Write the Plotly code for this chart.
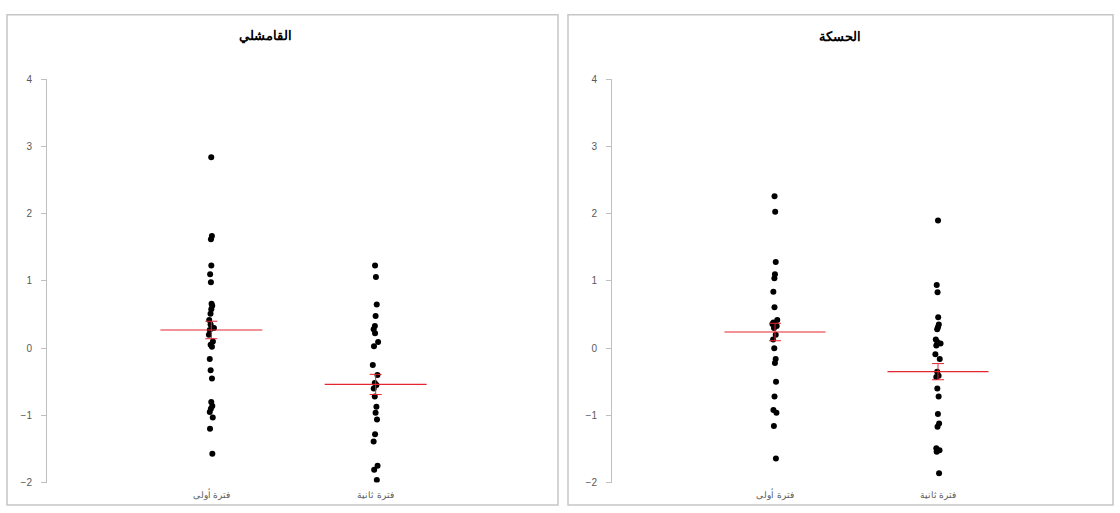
import plotly.graph_objects as go
from plotly.subplots import make_subplots

categories = ["فترة أولى", "فترة ثانية"]
panel_titles = ["القامشلي", "الحسكة"]

# Panel 1 (القامشلي)
qam_p1 = [2.84, 1.67, 1.62, 1.23, 1.10, 0.98, 0.66, 0.63, 0.58, 0.51, 0.42, 0.35,
          0.30, 0.27, 0.20, 0.10, 0.05, 0.02, -0.16, -0.33, -0.45, -0.80, -0.86,
          -0.90, -0.95, -1.03, -1.20, -1.57]
qam_p2 = [1.23, 1.06, 0.65, 0.48, 0.33, 0.28, 0.22, 0.09, 0.03, -0.25, -0.40,
          -0.52, -0.55, -0.60, -0.72, -0.87, -0.96, -1.06, -1.28, -1.39, -1.75,
          -1.81, -1.96]
qam_mean = [0.27, -0.54]
qam_se = [0.13, 0.15]

# Panel 2 (الحسكة)
has_p1 = [2.26, 2.03, 1.28, 1.10, 1.04, 0.84, 0.61, 0.42, 0.38, 0.36, 0.33, 0.30,
          0.20, 0.13, 0.00, -0.16, -0.22, -0.50, -0.72, -0.92, -0.96, -1.16, -1.64]
has_p2 = [1.90, 0.94, 0.83, 0.46, 0.35, 0.31, 0.28, 0.13, 0.09, 0.07, 0.04, -0.09,
          -0.16, -0.35, -0.41, -0.43, -0.60, -0.72, -0.98, -1.12, -1.17, -1.49,
          -1.52, -1.54, -1.86]
has_mean = [0.24, -0.35]
has_se = [0.13, 0.12]

y_ticks = [-2, -1, 0, 1, 2, 3, 4]

RED = "rgb(228,38,48)"
FONT = "Liberation Sans, Arial, sans-serif"
GRAY = "#595959"

fig = make_subplots(rows=1, cols=2)

panels = [
    (1, [qam_p1, qam_p2], qam_mean, qam_se),
    (2, [has_p1, has_p2], has_mean, has_se),
]

for col, groups, means, ses in panels:
    for i, vals in enumerate(groups):
        xpos = i + 1
        fig.add_trace(go.Box(
            x=[xpos] * len(vals), y=vals,
            boxpoints="all", jitter=0.12, pointpos=0, width=0.3,
            fillcolor="rgba(0,0,0,0)", line=dict(color="rgba(0,0,0,0)", width=0),
            marker=dict(color="black", size=6),
            showlegend=False, hoverinfo="y",
        ), row=1, col=col)
    for i, (m, s) in enumerate(zip(means, ses)):
        xpos = i + 1
        fig.add_trace(go.Scatter(
            x=[xpos - 0.31, xpos + 0.31], y=[m, m], mode="lines",
            line=dict(color=RED, width=1.2), showlegend=False, hoverinfo="skip",
        ), row=1, col=col)
        fig.add_trace(go.Scatter(
            x=[xpos], y=[m], mode="markers", marker=dict(size=0.1, color=RED),
            error_y=dict(type="data", array=[s], color=RED, thickness=1, width=6),
            showlegend=False, hoverinfo="skip",
        ), row=1, col=col)

W, H = 1120, 513
def px(x): return x / W
def py(y): return (H - y) / H

dom_y = [py(488), py(75)]
fig.update_layout(
    width=W, height=H, margin=dict(l=0, r=0, t=0, b=0),
    paper_bgcolor="white", plot_bgcolor="white",
    font=dict(family=FONT, color=GRAY),
    xaxis=dict(domain=[px(47), px(540)]),
    xaxis2=dict(domain=[px(612), px(1101)]),
    yaxis=dict(domain=dom_y),
    yaxis2=dict(domain=dom_y),
    # overlay axes to draw the inner half of the crossing tick marks
    yaxis3=dict(domain=dom_y, overlaying="y", anchor="x", side="left"),
    yaxis4=dict(domain=dom_y, overlaying="y2", anchor="x2", side="left"),
)

for ax in ["xaxis", "xaxis2"]:
    fig.layout[ax].update(
        range=[0, 3], tickmode="array", tickvals=[1, 2], ticktext=categories,
        showgrid=False, zeroline=False, showline=False, ticks="",
        ticklabelstandoff=5,
        tickfont=dict(size=9, color=GRAY, family=FONT),
    )
for ax in ["yaxis", "yaxis2"]:
    fig.layout[ax].update(
        range=[-2, 4], tickmode="array", tickvals=y_ticks,
        showgrid=False, zeroline=False, showline=True, linecolor="#bfbfbf",
        linewidth=1, ticks="outside", ticklen=5, tickcolor="#bfbfbf",
        ticklabelstandoff=7,
        tickfont=dict(size=10, color=GRAY, family=FONT),
    )
for ax in ["yaxis3", "yaxis4"]:
    fig.layout[ax].update(
        range=[-2, 4], tickmode="array", tickvals=y_ticks,
        showgrid=False, zeroline=False, showline=False, showticklabels=False,
        ticks="inside", ticklen=5, tickcolor="#bfbfbf",
    )

# panel borders
for x0, x1 in [(7, 558), (568, 1113)]:
    fig.add_shape(type="rect", xref="paper", yref="paper",
                  x0=px(x0), x1=px(x1), y0=py(511), y1=py(9),
                  line=dict(color="#c6c6c6", width=1.5), fillcolor="rgba(0,0,0,0)")

# titles
for title, cx in zip(panel_titles, [265, 840]):
    fig.add_annotation(text="<b>" + title + "</b>", xref="paper", yref="paper",
                       x=px(cx), y=py(31), xanchor="center", yanchor="middle",
                       showarrow=False,
                       font=dict(size=13, color="black", family=FONT))

fig.write_html("out.html")
